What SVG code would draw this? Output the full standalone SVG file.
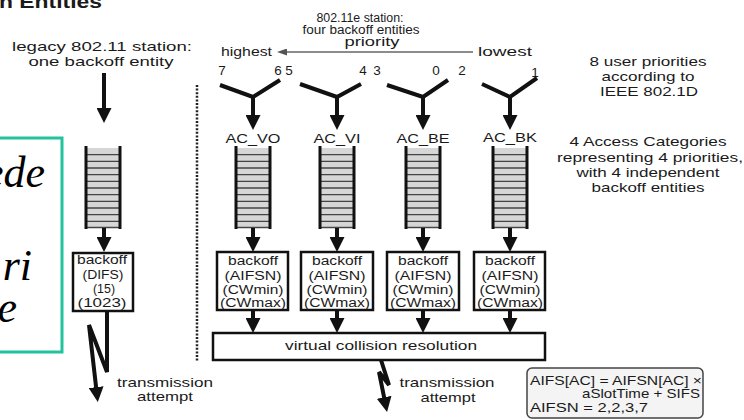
<svg xmlns="http://www.w3.org/2000/svg" xmlns:xlink="http://www.w3.org/1999/xlink" width="744" height="420" viewBox="0 0 744 420">
  <style>
    text { font-family: "Liberation Sans", Arial, Helvetica, sans-serif; fill: #1a1a1a; }
    .lbl { font-size: 13.5px; }
    .hd { font-size: 12px; }
    .bx { font-size: 12.5px; }
    .mid { text-anchor: middle; }
    .title { font-size: 19px; font-weight: bold; }
    .note { font-family: "Liberation Serif", "Times New Roman", serif; font-style: italic; font-size: 44px; fill: #000; text-anchor: end; }
    .box { fill: #fff; stroke: #111; stroke-width: 2.5; }
    .thick { fill: none; stroke: #111; stroke-width: 4; stroke-linejoin: miter; }
    .arrow { fill: none; stroke: #111; stroke-width: 4; marker-end: url(#ah); }
    .thin { fill: none; stroke: #666; stroke-width: 1.3; marker-end: url(#ahs); }
  </style>
  <defs>
    <marker id="ah" viewBox="0 0 15 15" refX="1" refY="7.5" markerWidth="15" markerHeight="15" markerUnits="userSpaceOnUse" orient="auto">
      <path d="M0,0 L15,7.5 L0,15 z" fill="#111"/>
    </marker>
    <marker id="ahs" viewBox="0 0 10 7" refX="1" refY="3.5" markerWidth="10" markerHeight="7" markerUnits="userSpaceOnUse" orient="auto">
      <path d="M0,0 L10,3.5 L0,7 z" fill="#555"/>
    </marker>
    <!-- queue of frames: grey body, dark separators, thick side walls -->
    <g id="queue">
      <rect x="-17" y="0" width="34" height="80" fill="#d6d6d6"/>
      <g stroke="#444" stroke-width="1.3">
        <line x1="-17" y1="6.7" x2="17" y2="6.7"/>
        <line x1="-17" y1="13.3" x2="17" y2="13.3"/>
        <line x1="-17" y1="20" x2="17" y2="20"/>
        <line x1="-17" y1="26.7" x2="17" y2="26.7"/>
        <line x1="-17" y1="33.3" x2="17" y2="33.3"/>
        <line x1="-17" y1="40" x2="17" y2="40"/>
        <line x1="-17" y1="46.7" x2="17" y2="46.7"/>
        <line x1="-17" y1="53.3" x2="17" y2="53.3"/>
        <line x1="-17" y1="60" x2="17" y2="60"/>
        <line x1="-17" y1="66.7" x2="17" y2="66.7"/>
        <line x1="-17" y1="73.3" x2="17" y2="73.3"/>
        <line x1="-17" y1="79.5" x2="17" y2="79.5"/>
      </g>
      <line x1="-17" y1="-2" x2="-17" y2="81" stroke="#111" stroke-width="3"/>
      <line x1="17" y1="-2" x2="17" y2="81" stroke="#111" stroke-width="3"/>
    </g>
  </defs>

  <rect width="744" height="420" fill="#fff"/>

  <!-- heading (cut by the top edge) -->
  <text class="title" x="-1" y="8" textLength="103" lengthAdjust="spacingAndGlyphs">n Entities</text>

  <!-- overlay note box -->
  <g id="note">
    <rect x="-10" y="138" width="72" height="214" fill="#fff" stroke="#22c39c" stroke-width="3"/>
    <text class="note" x="45" y="187">ede</text>
    <text class="note" x="32" y="280">ri</text>
    <text class="note" x="17" y="322">e</text>
  </g>

  <!-- separator between legacy and EDCA stations -->
  <line x1="197" y1="85" x2="197" y2="362" stroke="#222" stroke-width="2.5" stroke-dasharray="2 1.6"/>

  <!-- legacy station -->
  <g id="legacy">
    <text class="lbl mid" x="102" y="51" textLength="180" lengthAdjust="spacingAndGlyphs">legacy 802.11 station:</text>
    <text class="lbl mid" x="101" y="66" textLength="145" lengthAdjust="spacingAndGlyphs">one backoff entity</text>
  </g>
  <g id="legacy-queue"><use xlink:href="#queue" x="103" y="148"/></g>
  <g id="legacy-backoff">
    <rect class="box" x="73" y="253" width="60" height="58"/>
    <text class="bx mid" x="102" y="264" textLength="50" lengthAdjust="spacingAndGlyphs">backoff</text>
    <text class="bx mid" x="103" y="279" textLength="41" lengthAdjust="spacingAndGlyphs">(DIFS)</text>
    <text class="bx mid" x="104" y="293" textLength="22" lengthAdjust="spacingAndGlyphs">(15)</text>
    <text class="bx mid" x="102" y="307" textLength="49" lengthAdjust="spacingAndGlyphs">(1023)</text>
  </g>
  <g id="legacy-tx">
    <text class="lbl mid" x="165" y="387" textLength="96" lengthAdjust="spacingAndGlyphs">transmission</text>
    <text class="lbl mid" x="165" y="401" textLength="56" lengthAdjust="spacingAndGlyphs">attempt</text>
  </g>

  <!-- EDCA station header -->
  <g id="edca-header">
    <text class="hd mid" x="360" y="22" textLength="87" lengthAdjust="spacingAndGlyphs">802.11e station:</text>
    <text class="hd mid" x="361" y="34" textLength="117" lengthAdjust="spacingAndGlyphs">four backoff entities</text>
    <text class="hd mid" x="372" y="45.5" textLength="55" lengthAdjust="spacingAndGlyphs">priority</text>
    <text class="lbl" x="221" y="56" textLength="51" lengthAdjust="spacingAndGlyphs">highest</text>
    <text class="lbl" x="478" y="56" textLength="54" lengthAdjust="spacingAndGlyphs">lowest</text>
  </g>

  <!-- user priorities -->
  <g id="user-priorities">
    <text class="lbl mid" x="222" y="75">7</text>
    <text class="lbl mid" x="278" y="75">6</text>
    <text class="lbl mid" x="289" y="75">5</text>
    <text class="lbl mid" x="363" y="75">4</text>
    <text class="lbl mid" x="377" y="75">3</text>
    <text class="lbl mid" x="436" y="75">0</text>
    <text class="lbl mid" x="462" y="75">2</text>
    <text class="lbl mid" x="535" y="77">1</text>
  </g>

  <!-- access categories -->
  <g id="ac-vo">
    <text class="lbl mid" x="253" y="143" textLength="55" lengthAdjust="spacingAndGlyphs">AC_VO</text>
    <use xlink:href="#queue" x="253" y="148"/>
  </g>
  <g id="ac-vi">
    <text class="lbl mid" x="337" y="143" textLength="47" lengthAdjust="spacingAndGlyphs">AC_VI</text>
    <use xlink:href="#queue" x="337" y="148"/>
  </g>
  <g id="ac-be">
    <text class="lbl mid" x="423" y="143" textLength="53" lengthAdjust="spacingAndGlyphs">AC_BE</text>
    <use xlink:href="#queue" x="423" y="148"/>
  </g>
  <g id="ac-bk">
    <text class="lbl mid" x="510" y="142" textLength="54" lengthAdjust="spacingAndGlyphs">AC_BK</text>
    <use xlink:href="#queue" x="510" y="148"/>
  </g>

  <!-- per-AC backoff entities -->
  <g id="backoff-vo">
    <rect class="box" x="217" y="252" width="71" height="58"/>
    <text class="bx mid" x="253" y="265" textLength="50" lengthAdjust="spacingAndGlyphs">backoff</text>
    <text class="bx mid" x="253" y="280" textLength="57" lengthAdjust="spacingAndGlyphs">(AIFSN)</text>
    <text class="bx mid" x="253" y="294" textLength="61" lengthAdjust="spacingAndGlyphs">(CWmin)</text>
    <text class="bx mid" x="253" y="307" textLength="66" lengthAdjust="spacingAndGlyphs">(CWmax)</text>
  </g>
  <g id="backoff-vi">
    <rect class="box" x="301" y="252" width="72" height="58"/>
    <text class="bx mid" x="337" y="265" textLength="50" lengthAdjust="spacingAndGlyphs">backoff</text>
    <text class="bx mid" x="337" y="280" textLength="57" lengthAdjust="spacingAndGlyphs">(AIFSN)</text>
    <text class="bx mid" x="337" y="294" textLength="61" lengthAdjust="spacingAndGlyphs">(CWmin)</text>
    <text class="bx mid" x="337" y="307" textLength="66" lengthAdjust="spacingAndGlyphs">(CWmax)</text>
  </g>
  <g id="backoff-be">
    <rect class="box" x="387" y="252" width="72" height="58"/>
    <text class="bx mid" x="423" y="265" textLength="50" lengthAdjust="spacingAndGlyphs">backoff</text>
    <text class="bx mid" x="423" y="280" textLength="57" lengthAdjust="spacingAndGlyphs">(AIFSN)</text>
    <text class="bx mid" x="423" y="294" textLength="61" lengthAdjust="spacingAndGlyphs">(CWmin)</text>
    <text class="bx mid" x="423" y="307" textLength="66" lengthAdjust="spacingAndGlyphs">(CWmax)</text>
  </g>
  <g id="backoff-bk">
    <rect class="box" x="474" y="252" width="71" height="58"/>
    <text class="bx mid" x="510" y="265" textLength="50" lengthAdjust="spacingAndGlyphs">backoff</text>
    <text class="bx mid" x="510" y="280" textLength="57" lengthAdjust="spacingAndGlyphs">(AIFSN)</text>
    <text class="bx mid" x="510" y="294" textLength="61" lengthAdjust="spacingAndGlyphs">(CWmin)</text>
    <text class="bx mid" x="510" y="307" textLength="66" lengthAdjust="spacingAndGlyphs">(CWmax)</text>
  </g>

  <!-- shared collision stage -->
  <g id="collision">
    <rect class="box" x="213" y="333" width="332" height="27"/>
    <text class="lbl mid" x="381" y="350" textLength="192" lengthAdjust="spacingAndGlyphs">virtual collision resolution</text>
  </g>
  <g id="edca-tx">
    <text class="lbl mid" x="447" y="387" textLength="95" lengthAdjust="spacingAndGlyphs">transmission</text>
    <text class="lbl mid" x="448" y="402" textLength="55" lengthAdjust="spacingAndGlyphs">attempt</text>
  </g>

  <!-- side annotations -->
  <g id="note-priorities">
    <text class="lbl mid" x="648" y="66" textLength="117" lengthAdjust="spacingAndGlyphs">8 user priorities</text>
    <text class="lbl mid" x="648" y="81" textLength="93" lengthAdjust="spacingAndGlyphs">according to</text>
    <text class="lbl mid" x="649" y="96" textLength="98" lengthAdjust="spacingAndGlyphs">IEEE 802.1D</text>
  </g>
  <g id="note-categories">
    <text class="lbl mid" x="648" y="146" textLength="157" lengthAdjust="spacingAndGlyphs">4 Access Categories</text>
    <text class="lbl mid" x="650" y="162" textLength="186" lengthAdjust="spacingAndGlyphs">representing 4 priorities,</text>
    <text class="lbl mid" x="648" y="177" textLength="143" lengthAdjust="spacingAndGlyphs">with 4 independent</text>
    <text class="lbl mid" x="648" y="192" textLength="113" lengthAdjust="spacingAndGlyphs">backoff entities</text>
  </g>
  <g id="aifs-formula">
    <rect x="527" y="368" width="176" height="50" rx="5" fill="#f4f4f4" stroke="#444" stroke-width="1.5"/>
    <text class="lbl" x="530" y="385" textLength="172" lengthAdjust="spacingAndGlyphs">AIFS[AC] = AIFSN[AC] ×</text>
    <text class="lbl" x="582" y="398" textLength="118" lengthAdjust="spacingAndGlyphs">aSlotTime + SIFS</text>
    <text class="lbl" x="530" y="412" textLength="118" lengthAdjust="spacingAndGlyphs">AIFSN = 2,2,3,7</text>
  </g>

  <!-- connectors -->
  <g id="connectors">
    <!-- priority scale -->
    <line class="thin" x1="473" y1="52" x2="286" y2="52"/>
    <!-- legacy path -->
    <line class="arrow" x1="104" y1="73" x2="104" y2="109"/>
    <line class="arrow" x1="104" y1="228" x2="104" y2="238"/>
    <polyline class="arrow" points="107,311 107,372 89,325 96.2,388.1"/>
    <!-- user priority merges -->
    <polyline class="thick" points="220,85 253,97 280,80"/>
    <polyline class="thick" points="300,84 337,97 361,84"/>
    <polyline class="thick" points="387,85 423,97 448,80"/>
    <polyline class="thick" points="482,84 510,97 537,78"/>
    <line class="arrow" x1="253" y1="96" x2="253" y2="116"/>
    <line class="arrow" x1="337" y1="96" x2="337" y2="116"/>
    <line class="arrow" x1="423" y1="96" x2="423" y2="116"/>
    <line class="arrow" x1="510" y1="96" x2="510" y2="116"/>
    <!-- queues to backoff entities -->
    <line class="arrow" x1="253" y1="228" x2="253" y2="238"/>
    <line class="arrow" x1="337" y1="228" x2="337" y2="238"/>
    <line class="arrow" x1="423" y1="228" x2="423" y2="238"/>
    <line class="arrow" x1="510" y1="228" x2="510" y2="238"/>
    <!-- backoff entities to collision resolution -->
    <line class="arrow" x1="253" y1="310" x2="253" y2="319"/>
    <line class="arrow" x1="337" y1="310" x2="337" y2="319"/>
    <line class="arrow" x1="423" y1="310" x2="423" y2="319"/>
    <line class="arrow" x1="510" y1="310" x2="510" y2="319"/>
    <!-- EDCA transmission -->
    <polyline class="arrow" points="381,360 389,385 379,372 384.3,398.3"/>
  </g>
</svg>
